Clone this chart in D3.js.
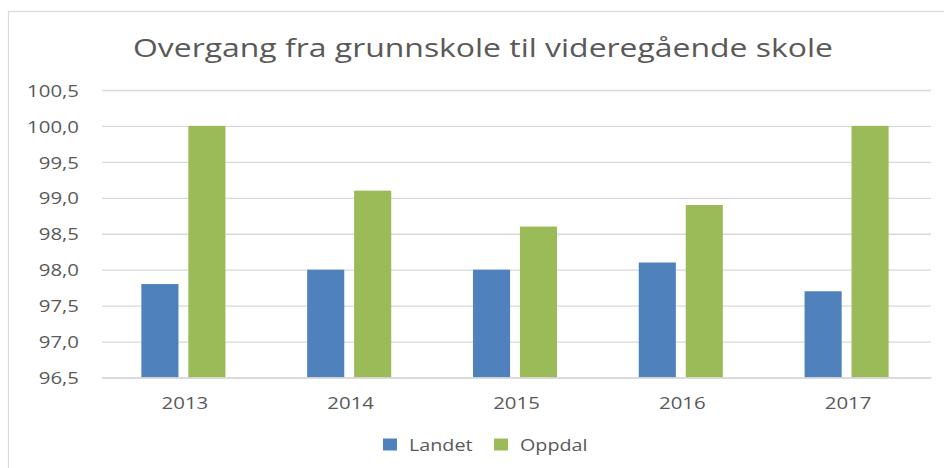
<!DOCTYPE html>
<html>
<head>
<meta charset="utf-8">
<script src="https://cdn.jsdelivr.net/npm/d3@7"></script>
<style>
  body { margin: 0; background: #fff; }
  text { font-family: "Open Sans", "Liberation Sans", sans-serif; fill: #595959; }
</style>
</head>
<body>
<svg id="chart" width="944" height="468"></svg>
<script>
// data
const years = ["2013", "2014", "2015", "2016", "2017"]
const seriesNames = ["Landet", "Oppdal"]
const landet = [97.8, 98.0, 98.0, 98.1, 97.7]
const oppdal = [100.0, 99.1, 98.6, 98.9, 100.0]
const yTicks = [96.5, 97.0, 97.5, 98.0, 98.5, 99.0, 99.5, 100.0, 100.5]
const colors = ["#4f81bd", "#9bbb59"]

let svg = d3.select("#chart")
let margin = { top: 90, left: 102, right: 13, bottom: 91 }
let width = 944 - margin.left - margin.right
let height = 468 - margin.top - margin.bottom + 0.5

// stretch text horizontally, the original is a bit wider than our fonts
function stretch(sel, k) {
    sel.each(function() {
        let w = this.getComputedTextLength()
        d3.select(this).attr("textLength", w * k).attr("lengthAdjust", "spacingAndGlyphs")
    })
}

// chart border (only top and left are inside the window)
svg.append("rect")
    .attr("x", 8.5).attr("y", 11.5)
    .attr("width", 1000).attr("height", 1000)
    .style("fill", "none")
    .style("stroke", "#d9d9d9")
    .style("stroke-width", 1.2)

svg.append("text")
    .attr("x", 483).attr("y", 57)
    .style("text-anchor", "middle")
    .style("font-size", "26px")
    .attr("textLength", 700)
    .attr("lengthAdjust", "spacingAndGlyphs")
    .text("Overgang fra grunnskole til videregående skole")

let locale = d3.formatLocale({ decimal: ",", thousands: " ", grouping: [3], currency: ["", " kr"] })
let fmt = locale.format(".1f")

let xScale = d3.scaleBand()
    .domain(years)
    .range([0, width])

let xInner = d3.scaleBand()
    .domain(seriesNames)
    .range([-1.5, xScale.bandwidth() - 1.5])
    .paddingInner(0.21)
    .paddingOuter(0.87)

let yScale = d3.scaleLinear()
    .domain([96.5, 100.5])
    .range([height, 0])

let g = svg.append("g")
    .attr("transform", "translate(" + margin.left + "," + margin.top + ")")

let yAxis = d3.axisLeft(yScale)
    .tickValues(yTicks)
    .tickSize(-width)
    .tickPadding(23)
    .tickFormat(fmt)

let gY = g.append("g").call(yAxis)
gY.select(".domain").remove()
gY.selectAll(".tick line").style("stroke", "#d9d9d9").style("stroke-width", 1.3)
gY.selectAll(".tick text")
    .attr("dy", "0.36em")
    .style("font-size", "17px")
    .style("fill", "#595959")
    .style("font-family", "\"Open Sans\", sans-serif")
stretch(gY.selectAll(".tick text"), 1.2)

// bars
let rows = years.map((y, i) => ({ year: y, values: [landet[i], oppdal[i]] }))

let groups = g.selectAll(".group")
    .data(rows)
    .enter().append("g")
    .attr("transform", d => "translate(" + xScale(d.year) + ",0)")

groups.selectAll("rect")
    .data(d => d.values.map((v, j) => ({ name: seriesNames[j], value: v, idx: j })))
    .enter().append("rect")
    .attr("x", d => xInner(d.name))
    .attr("width", xInner.bandwidth())
    .attr("y", d => yScale(d.value))
    .attr("height", d => height - yScale(d.value))
    .style("fill", d => colors[d.idx])

let xAxis = d3.axisBottom(xScale)
    .tickSize(0)
    .tickPadding(19)

let gX = g.append("g")
    .attr("transform", "translate(0," + height + ")")
    .call(xAxis)
gX.select(".domain").style("stroke", "#d9d9d9").style("stroke-width", 1.6)
gX.selectAll(".tick text")
    .style("font-size", "17px")
    .style("fill", "#595959")
    .style("font-family", "\"Open Sans\", sans-serif")
stretch(gX.selectAll(".tick text"), 1.2)

// legend
let legend = svg.append("g")
let legendX = [383, 494]
seriesNames.forEach((name, i) => {
    legend.append("rect")
        .attr("x", legendX[i]).attr("y", 438.5)
        .attr("width", 14).attr("height", 12)
        .style("fill", colors[i])
    let t = legend.append("text")
        .attr("x", legendX[i] + 26).attr("y", 451)
        .style("font-size", "17px")
        .text(name)
    stretch(t, 1.16)
})
</script>
</body>
</html>
